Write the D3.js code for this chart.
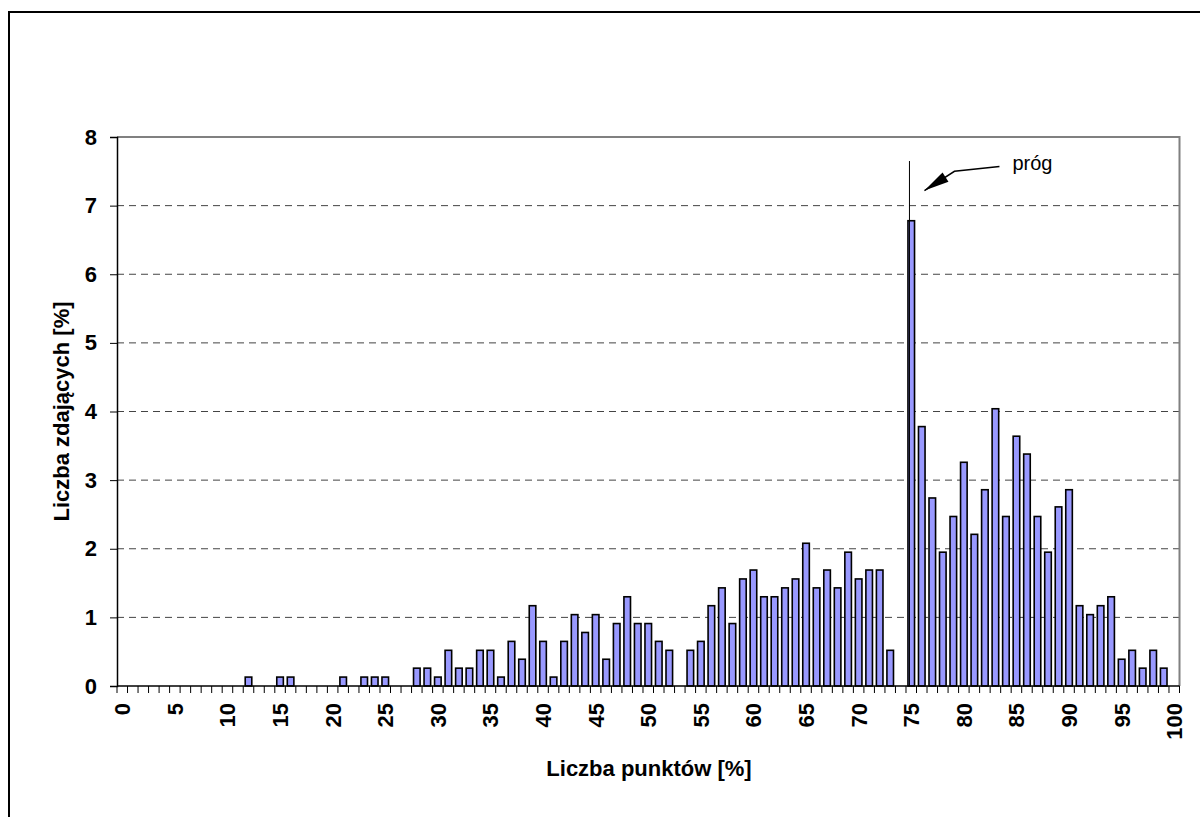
<!DOCTYPE html>
<html><head><meta charset="utf-8">
<script src="https://cdn.jsdelivr.net/npm/d3@7"></script>
<style>body{margin:0;background:#fff}svg{display:block}</style>
</head><body>
<svg id="c" width="1200" height="817"></svg>
<script>
const categories = d3.range(0, 101);
const values = [
 0,0,0,0,0,0,0,0,0,0,
 0,0,0.13,0,0,0.13,0.13,0,0,0,
 0,0.13,0,0.13,0.13,0.13,0,0,0.26,0.26,
 0.13,0.52,0.26,0.26,0.52,0.52,0.13,0.65,0.39,1.17,
 0.65,0.13,0.65,1.04,0.78,1.04,0.39,0.91,1.30,0.91,
 0.91,0.65,0.52,0,0.52,0.65,1.17,1.43,0.91,1.56,
 1.69,1.30,1.30,1.43,1.56,2.08,1.43,1.69,1.43,1.95,
 1.56,1.69,1.69,0.52,0,6.78,3.78,2.74,1.95,2.47,
 3.26,2.21,2.86,4.04,2.47,3.64,3.38,2.47,1.95,2.61,
 2.86,1.17,1.04,1.17,1.30,0.39,0.52,0.26,0.52,0.26,
 0];
const xTickLabels = d3.range(0, 101, 5);
const yTicks = [0,1,2,3,4,5,6,7,8];
const threshold = 75;
const thresholdLabel = "próg";
const xTitle = "Liczba punktów [%]";
const yTitle = "Liczba zdających [%]";

const svg = d3.select("#c");
const L = 117, R = 1179.5, T = 137, B = 686;
const font = "'Liberation Sans', Arial, sans-serif";

// outer frame
svg.append("rect").attr("x", 9).attr("y", 12).attr("width", 1200).attr("height", 820)
  .attr("fill", "none").attr("stroke", "#000").attr("stroke-width", 2);

const x = d3.scaleBand().domain(categories).range([L, R]).paddingInner(0.6/1.6).paddingOuter(0.3/1.6);
const xCat = d3.scaleBand().domain(categories).range([L, R]);
const y = d3.scaleLinear().domain([0, 8]).range([B, T]);

// grid
svg.append("g").selectAll("line").data(yTicks.filter(v => v > 0 && v < 8)).join("line")
  .attr("x1", L).attr("x2", R).attr("y1", d => y(d)).attr("y2", d => y(d))
  .attr("stroke", "#444").attr("stroke-width", 1).attr("stroke-dasharray", "7,5");

// plot border (top and right)
svg.append("path").attr("d", `M${L},${y(8)}H${R}V${B}`).attr("fill", "none")
  .attr("stroke", "#808080").attr("stroke-width", 2);

// bars
svg.append("g").selectAll("rect").data(categories.filter(c => values[c] > 0)).join("rect")
  .attr("x", c => x(c)).attr("width", x.bandwidth())
  .attr("y", c => y(values[c])).attr("height", c => y(0) - y(values[c]))
  .attr("fill", "#9999FF").attr("stroke", "#000").attr("stroke-width", 1.6);

// y axis
const yAxis = svg.append("g").attr("transform", `translate(${L},0)`)
  .call(d3.axisLeft(y).tickValues(yTicks).tickSize(7).tickPadding(13).tickFormat(d3.format("d")));
yAxis.select(".domain").attr("stroke", "#000").attr("stroke-width", 1.5);
yAxis.selectAll(".tick line").attr("stroke", "#000");
yAxis.selectAll("text").attr("font-family", font).attr("font-size", 22).attr("font-weight", "bold").attr("fill", "#000");

// x axis ticks (between categories)
const xg = svg.append("g");
xg.append("line").attr("x1", L).attr("x2", R).attr("y1", B).attr("y2", B).attr("stroke", "#000").attr("stroke-width", 1.5);
xg.selectAll("line.tk").data(categories.concat([101])).join("line").attr("class", "tk")
  .attr("x1", c => c === 101 ? R : xCat(c)).attr("x2", c => c === 101 ? R : xCat(c))
  .attr("y1", B).attr("y2", B + 7).attr("stroke", "#000").attr("stroke-width", 1);
xg.selectAll("text").data(xTickLabels).join("text")
  .attr("transform", c => `translate(${xCat(c) + xCat.bandwidth()/2 + 8},${B + 17}) rotate(-90)`)
  .attr("text-anchor", "end").attr("font-family", font).attr("font-size", 22).attr("font-weight", "bold")
  .text(d => d);

// titles
svg.append("text").attr("x", 649).attr("y", 776).attr("text-anchor", "middle")
  .attr("font-family", font).attr("font-size", 22).attr("font-weight", "bold").text(xTitle);
svg.append("text").attr("transform", `translate(69,${(T + B) / 2}) rotate(-90)`).attr("text-anchor", "middle")
  .attr("font-family", font).attr("font-size", 22).attr("font-weight", "bold").text(yTitle);

// threshold line
const tx = xCat(threshold) + xCat.step() * 0.33;
svg.append("line").attr("x1", tx).attr("x2", tx).attr("y1", y(7.65)).attr("y2", B)
  .attr("stroke", "#000").attr("stroke-width", 1);

// arrow annotation
const p0 = [tx + 90, y(7.57)], p1 = [tx + 45, y(7.5)], tip = [tx + 15, y(7.22)];
svg.append("path").attr("d", `M${p0}L${p1}L${tip}`).attr("fill", "none").attr("stroke", "#000").attr("stroke-width", 1.5);
const ang = Math.atan2(tip[1] - p1[1], tip[0] - p1[0]);
const hl = 25, hw = 5.5;
const bx = tip[0] - hl * Math.cos(ang), by = tip[1] - hl * Math.sin(ang);
const nx = -Math.sin(ang) * hw, ny = Math.cos(ang) * hw;
svg.append("path").attr("d", `M${tip}L${bx + nx},${by + ny}L${bx - nx},${by - ny}Z`).attr("fill", "#000");
svg.append("text").attr("x", tx + 103).attr("y", y(7.52)).attr("font-family", font).attr("font-size", 20)
  .text(thresholdLabel);
</script>
</body></html>
